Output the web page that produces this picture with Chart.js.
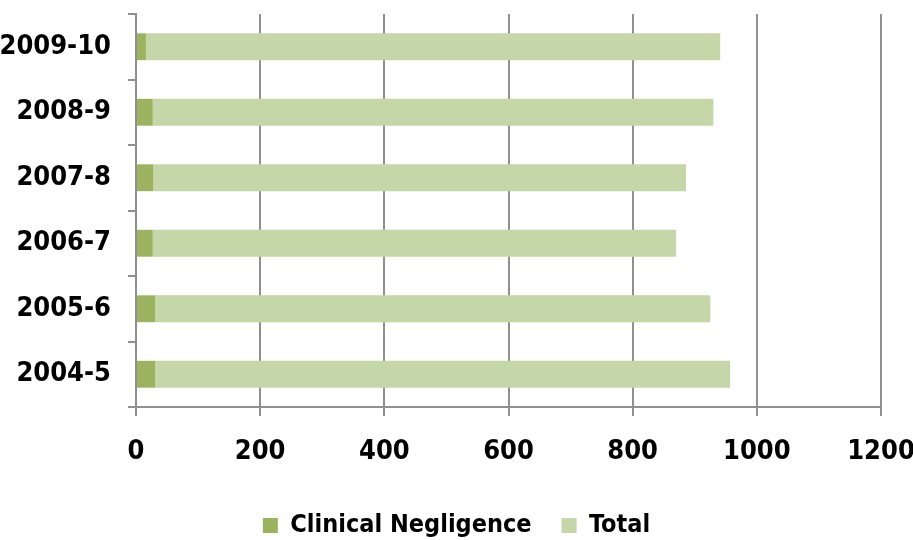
<!DOCTYPE html>
<html>
<head>
<meta charset="utf-8">
<script src="https://cdn.jsdelivr.net/npm/chart.js@4.4.1/dist/chart.umd.min.js"></script>
<style>
  html, body { margin: 0; padding: 0; background: #fff; }
  #wrap { width: 913px; height: 540px; }
</style>
</head>
<body>
<div id="wrap"><canvas id="claimsChart"></canvas></div>
<script>
// years, top to bottom
const years = ['2009-10', '2008-9', '2007-8', '2006-7', '2005-6', '2004-5'];
// clinical negligence part of each bar
const clinicalNegligence = [16, 27, 28, 27, 31, 31];
// remaining part, stacked after it
const totalSegment = [925, 903, 858, 843, 894, 926];
const xTicks = [0, 200, 400, 600, 800, 1000, 1200];

const FONT = "'DejaVu Sans Condensed', 'Liberation Sans Narrow', 'Arial Narrow', sans-serif";
const axisGray = '#909090';

const ctx = document.getElementById('claimsChart').getContext('2d');

new Chart(ctx, {
    type: 'bar',
    data: {
        labels: years,
        datasets: [
            { label: 'Clinical Negligence', data: clinicalNegligence, backgroundColor: '#9BB35F', borderWidth: 0 },
            { label: 'Total', data: totalSegment, backgroundColor: '#C5D6A8', borderWidth: 0 }
        ]
    },
    options: {
        indexAxis: 'y',
        responsive: true,
        maintainAspectRatio: false,
        animation: false,
        datasets: { bar: { barPercentage: 0.41, categoryPercentage: 1.0 } },
        // legend is centred on the full width, right gap comes from the x scale
        layout: { padding: { left: 0, right: 0, top: 14, bottom: -8 } },
        scales: {
            x: {
                stacked: true,
                min: 0,
                max: 1200,
                afterBuildTicks: (scale) => { scale.ticks = xTicks.map(v => ({ value: v })); },
                ticks: {
                    color: '#000',
                    font: { family: FONT, size: 27, weight: 'bold' },
                    padding: 20,
                    maxRotation: 0,
                    callback: (value) => String(value)
                },
                grid: { color: axisGray, lineWidth: 2, tickLength: 9, drawOnChartArea: true },
                border: { color: axisGray, width: 2 },
                afterFit: (scale) => {
                    scale.height = 76;
                    scale.paddingLeft = 0;
                    scale.paddingRight = 32;
                }
            },
            y: {
                stacked: true,
                ticks: {
                    color: '#000',
                    font: { family: FONT, size: 27, weight: 'bold' },
                    padding: 17
                },
                grid: { offset: true, drawOnChartArea: false, color: axisGray, lineWidth: 2, tickLength: 8 },
                border: { color: axisGray, width: 2 },
                afterFit: (scale) => {
                    scale.width = 136;
                    scale.paddingTop = 0;
                    scale.paddingBottom = 0;
                }
            }
        },
        plugins: {
            legend: {
                position: 'bottom',
                labels: {
                    color: '#000',
                    font: { family: FONT, size: 25, weight: 'bold', lineHeight: 1 },
                    boxWidth: 15,
                    boxHeight: 15,
                    padding: 30
                }
            },
            tooltip: { enabled: false }
        }
    }
});
</script>
</body>
</html>
